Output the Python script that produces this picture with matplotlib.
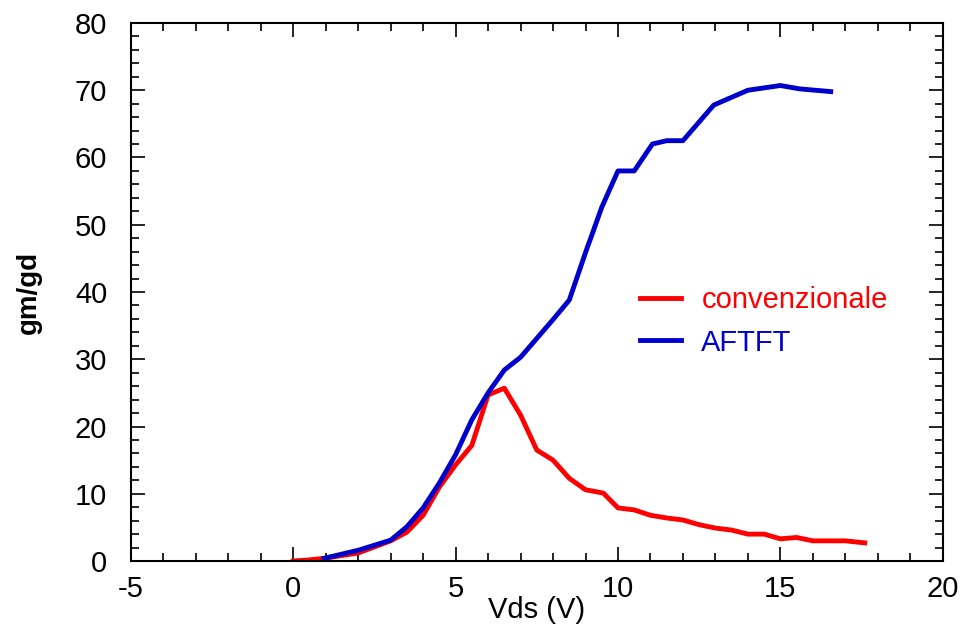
import matplotlib.pyplot as plt
import numpy as np

plt.rcParams['font.family'] = ['Liberation Sans', 'DejaVu Sans']
plt.rcParams['axes.unicode_minus'] = False

# convenzionale
vds_conv = [0.0, 0.45, 0.95, 2.0, 3.0, 3.5, 4.0, 4.5, 5.0, 5.5, 6.0, 6.5, 7.0, 7.5,
            8.0, 8.5, 9.0, 9.55, 10.0, 10.5, 11.0, 11.5, 12.0, 12.5, 13.0, 13.5,
            14.0, 14.5, 15.0, 15.5, 16.0, 16.5, 17.0, 17.6]
gm_conv = [0.0, 0.15, 0.4, 1.2, 3.0, 4.3, 6.8, 11.0, 14.3, 17.2, 24.7, 25.7, 21.7, 16.5,
           15.0, 12.3, 10.6, 10.1, 7.9, 7.6, 6.8, 6.4, 6.1, 5.4, 4.9, 4.6,
           4.0, 4.0, 3.3, 3.5, 3.0, 3.0, 3.0, 2.7]

# AFTFT
vds_af = [0.95, 2.0, 3.0, 3.5, 4.0, 4.5, 5.0, 5.5, 6.0, 6.5, 7.0, 8.0, 8.5, 9.06,
          9.16, 9.5, 10.0, 10.5, 11.06, 11.5, 12.0, 12.95, 14.0, 15.0, 15.6, 16.55]
gm_af = [0.4, 1.6, 3.1, 5.1, 7.9, 11.6, 15.8, 21.0, 25.0, 28.4, 30.3, 35.9, 38.8, 46.7,
         48.0, 52.6, 58.0, 58.0, 62.0, 62.5, 62.5, 67.8, 70.0, 70.7, 70.2, 69.8]

fig = plt.figure(figsize=(9.62, 6.33), dpi=100)
ax = fig.add_axes([0.136, 0.1137, 0.844, 0.85])

ax.plot(vds_conv, gm_conv, color='#FF0000', lw=3.5, label='convenzionale')
ax.plot(vds_af, gm_af, color='#0000CC', lw=3.5, label='AFTFT')

ax.set_xlim(-5, 20)
ax.set_ylim(0, 80)
ax.set_xticks(np.arange(-5, 21, 5))
ax.set_yticks(np.arange(0, 81, 10))
ax.set_xticks(np.arange(-5, 21, 1), minor=True)
ax.set_yticks(np.arange(0, 81, 2), minor=True)
ax.tick_params(which='both', direction='in', top=True, right=True, labelsize=21, width=1.2)
ax.tick_params(which='major', length=10)
ax.tick_params(which='minor', length=6)
ax.tick_params(axis='x', pad=10)
ax.tick_params(axis='y', pad=17)
for s in ax.spines.values():
    s.set_linewidth(1.5)

ax.set_xlabel('Vds (V)', fontsize=21, labelpad=-5)
ax.set_ylabel('gm/gd', fontsize=20, fontweight='bold', labelpad=24)

ax.legend(loc='upper left', bbox_to_anchor=(0.595, 0.56), frameon=False, fontsize=21,
          labelcolor='linecolor', handlelength=1.4, handletextpad=0.7, labelspacing=0.5)

fig.savefig('out.png', dpi=100)
